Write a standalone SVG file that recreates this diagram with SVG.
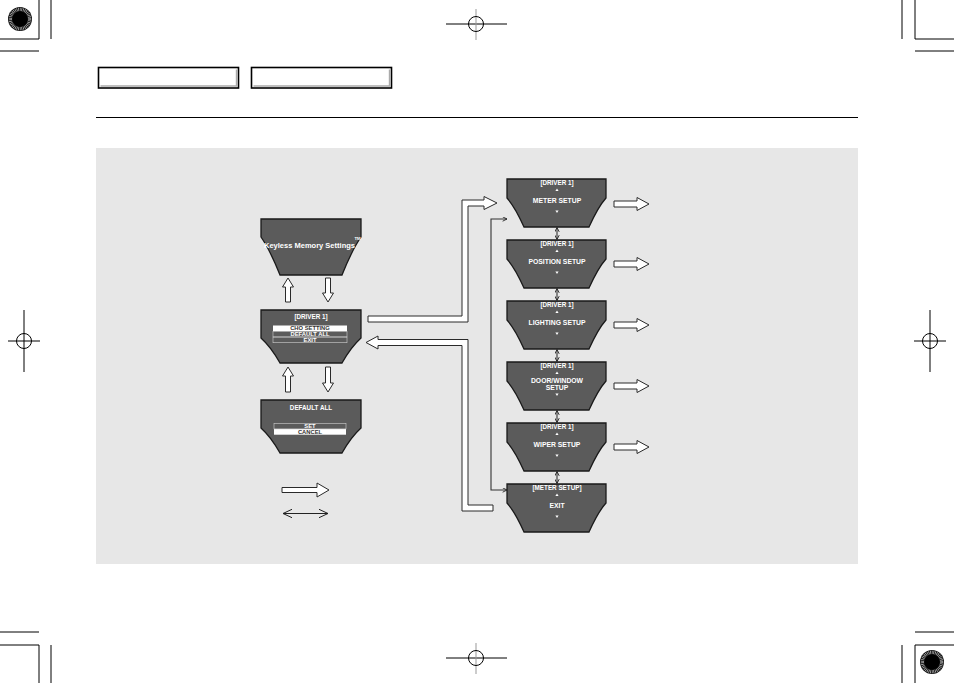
<svg xmlns="http://www.w3.org/2000/svg" width="954" height="683" viewBox="0 0 954 683">
<defs>
<style>
.reg{stroke:#000;stroke-width:1;fill:none}
.scr{fill:#5b5b5b;stroke:#1a1a1a;stroke-width:1.3}
.st{font-family:"Liberation Sans",Arial,sans-serif;font-weight:bold;fill:#fff;text-anchor:middle}
.st.dk{fill:#333}
.wa{fill:#fff;stroke:#2a2a2a;stroke-width:1}
.thin{fill:none;stroke:#333;stroke-width:1.1}
.tab{fill:#fff;stroke:#000;stroke-width:1.6}
.tri{fill:#fff}
</style>
<marker id="oa" viewBox="0 0 8 8" refX="7.5" refY="4" markerWidth="5" markerHeight="5" orient="auto-start-reverse" markerUnits="userSpaceOnUse">
<path d="M0.5,0.5 L7.5,4 L0.5,7.5" fill="none" stroke="#222" stroke-width="1.4"/>
</marker>
<marker id="ob" viewBox="0 0 10 10" refX="9.5" refY="5" markerWidth="10" markerHeight="10" orient="auto-start-reverse" markerUnits="userSpaceOnUse">
<path d="M0.5,0.8 L9.5,5 L0.5,9.2" fill="none" stroke="#222" stroke-width="1"/>
</marker>
<g id="target">
<circle r="12" fill="#111"/>
<circle r="9.6" fill="none" stroke="#bbb" stroke-width="3.2" stroke-dasharray="0.7 0.9"/>
<circle r="7.6" fill="#000"/>
</g>
</defs>

<rect width="954" height="683" fill="#fff"/>

<!-- registration marks -->
<g id="marks">
<use href="#target" x="20" y="19"/>
<path class="reg" d="M39,0V39H0M51,0V39M0,51H39"/>
<path class="reg" d="M902,0V39M915,0V39H954M915,51H954"/>
<path class="reg" d="M0,632H39M0,645H39V683M51,645V683"/>
<path class="reg" d="M915,632H954M902,645V683M954,645H915V683"/>
<use href="#target" x="932" y="662"/>
<path class="reg" d="M446,24H507"/>
<path d="M476,9V40" stroke="#999" stroke-width="1"/>
<circle class="reg" cx="476" cy="24" r="7.5"/>
<path class="reg" d="M446,658H507"/>
<path d="M476,643V674" stroke="#999" stroke-width="1"/>
<circle class="reg" cx="476" cy="658" r="7.5"/>
<path class="reg" d="M8,341H40M24,310V372"/>
<circle class="reg" cx="24" cy="341" r="7.5"/>
<path class="reg" d="M914,341H946M930,310V372"/>
<circle class="reg" cx="930" cy="341" r="7.5"/>
</g>

<!-- header tabs -->
<g id="tabs">
<rect class="tab" x="98.5" y="67.5" width="140" height="20.5"/>
<path d="M236.5,69.5V86H100.5" fill="none" stroke="#aaa" stroke-width="1.4"/>
<rect class="tab" x="251.5" y="67.5" width="140" height="20.5"/>
<path d="M389.5,69.5V86H253.5" fill="none" stroke="#aaa" stroke-width="1.4"/>
</g>
<path d="M96,117.5H858" stroke="#000" stroke-width="1"/>

<rect id="panel" x="96" y="148" width="762" height="416" fill="#e7e7e7"/>

<!-- left screens -->
<g id="keyless">
<path class="scr" d="M261,219H361V237Q352,250 342,275H280Q270,250 261,237Z"/>
<text class="st" x="309.5" y="247.5" font-size="7.3" textLength="91" lengthAdjust="spacingAndGlyphs">Keyless Memory Settings</text>
<text class="st" x="357.5" y="240" font-size="4.3">TM</text>
</g>
<g id="driver1-menu">
<path class="scr" d="M261,310H361V338Q351,347 342,363H280Q271,347 261,338Z"/>
<text class="st" x="311" y="318.5" font-size="6.3">[DRIVER 1]</text>
<rect x="273" y="325.5" width="74" height="5.6" fill="#fff"/>
<text class="st dk" x="310" y="330.4" font-size="5.8">CHO SETTING</text>
<rect x="273" y="331.3" width="74" height="5.6" fill="none" stroke="#d0d0d0" stroke-width="0.6"/>
<text class="st" x="310" y="336.2" font-size="5.8">DEFAULT ALL</text>
<rect x="273" y="337.1" width="74" height="5.6" fill="none" stroke="#d0d0d0" stroke-width="0.6"/>
<text class="st" x="310" y="342" font-size="5.8">EXIT</text>
</g>
<g id="default-all">
<path class="scr" d="M261,400H361V428Q351,437 342,453H280Q271,437 261,428Z"/>
<text class="st" x="311" y="409.5" font-size="6.3">DEFAULT ALL</text>
<rect x="274" y="423.3" width="72" height="5.6" fill="none" stroke="#d0d0d0" stroke-width="0.6"/>
<text class="st" x="310" y="428.2" font-size="5.8">SET</text>
<rect x="274" y="429.1" width="72" height="5.6" fill="#fff"/>
<text class="st dk" x="310" y="434" font-size="5.8">CANCEL</text>
</g>

<!-- right screens -->
<g id="meter-setup">
<path class="scr" d="M507,179H606V198Q598,207 589,227H524Q515,207 507,198Z"/>
<text class="st" x="557" y="185.3" font-size="6.3">[DRIVER 1]</text>
<path class="tri" d="M557,188.5L558.6,191H555.4Z"/>
<text class="st" x="557" y="202.5" font-size="6.8">METER SETUP</text>
<path class="tri" d="M557,213L558.6,210.5H555.4Z"/>
</g>
<g id="position-setup">
<path class="scr" d="M507,240H606V259Q598,268 589,288H524Q515,268 507,259Z"/>
<text class="st" x="557" y="246.3" font-size="6.3">[DRIVER 1]</text>
<path class="tri" d="M557,249.5L558.6,252H555.4Z"/>
<text class="st" x="557" y="263.5" font-size="6.8">POSITION SETUP</text>
<path class="tri" d="M557,274L558.6,271.5H555.4Z"/>
</g>
<g id="lighting-setup">
<path class="scr" d="M507,301H606V320Q598,329 589,349H524Q515,329 507,320Z"/>
<text class="st" x="557" y="307.3" font-size="6.3">[DRIVER 1]</text>
<path class="tri" d="M557,310.5L558.6,313H555.4Z"/>
<text class="st" x="557" y="324.5" font-size="6.8">LIGHTING SETUP</text>
<path class="tri" d="M557,335L558.6,332.5H555.4Z"/>
</g>
<g id="door-window-setup">
<path class="scr" d="M507,362H606V381Q598,390 589,410H524Q515,390 507,381Z"/>
<text class="st" x="557" y="368.3" font-size="6.3">[DRIVER 1]</text>
<path class="tri" d="M557,371.5L558.6,374H555.4Z"/>
<text class="st" x="557" y="382.5" font-size="6.8">DOOR/WINDOW</text>
<text class="st" x="557" y="389.8" font-size="6.8">SETUP</text>
<path class="tri" d="M557,396L558.6,393.5H555.4Z"/>
</g>
<g id="wiper-setup">
<path class="scr" d="M507,423H606V442Q598,451 589,471H524Q515,451 507,442Z"/>
<text class="st" x="557" y="429.3" font-size="6.3">[DRIVER 1]</text>
<path class="tri" d="M557,432.5L558.6,435H555.4Z"/>
<text class="st" x="557" y="446.5" font-size="6.8">WIPER SETUP</text>
<path class="tri" d="M557,457L558.6,454.5H555.4Z"/>
</g>
<g id="exit">
<path class="scr" d="M507,484H606V503Q598,512 589,532H524Q515,512 507,503Z"/>
<text class="st" x="557" y="490.3" font-size="6.3">[METER SETUP]</text>
<path class="tri" d="M557,493.5L558.6,496H555.4Z"/>
<text class="st" x="557" y="507.5" font-size="6.8">EXIT</text>
<path class="tri" d="M557,518L558.6,515.5H555.4Z"/>
</g>

<!-- connectors -->
<g id="connectors">
<path class="wa" d="M288,278L293.5,287H290.5V302H285.5V287H282.5Z"/>
<path class="wa" d="M328,302L333.5,293H330.5V278H325.5V293H322.5Z"/>
<path class="wa" d="M288,367L293.5,376H290.5V392H285.5V376H282.5Z"/>
<path class="wa" d="M328,392L333.5,383H330.5V367H325.5V383H322.5Z"/>
<path class="wa" d="M368,316H462V200H484V196.5L497,203L484,209.5V206H468V322H368Z"/>
<path class="wa" d="M366,342.5L378,336V339.5H468V505H493V511H462V345.5H378V349Z"/>
<path class="thin" d="M507,219H491V490H507" marker-start="url(#oa)" marker-end="url(#oa)"/>
<path class="thin" d="M557,227.5V239.5" marker-start="url(#oa)" marker-end="url(#oa)"/>
<path class="thin" d="M557,288.5V300.5" marker-start="url(#oa)" marker-end="url(#oa)"/>
<path class="thin" d="M557,349.5V361.5" marker-start="url(#oa)" marker-end="url(#oa)"/>
<path class="thin" d="M557,410.5V422.5" marker-start="url(#oa)" marker-end="url(#oa)"/>
<path class="thin" d="M557,471.5V483.5" marker-start="url(#oa)" marker-end="url(#oa)"/>
<path class="wa" d="M614,201H637V197.5L649,204L637,210.5V207H614Z"/>
<path class="wa" d="M614,261H637V257.5L649,264L637,270.5V267H614Z"/>
<path class="wa" d="M614,322H637V318.5L649,325L637,331.5V328H614Z"/>
<path class="wa" d="M614,383H637V379.5L649,386L637,392.5V389H614Z"/>
<path class="wa" d="M614,444H637V440.5L649,447L637,453.5V450H614Z"/>
</g>

<!-- legend -->
<g id="legend">
<path class="wa" d="M282,487.5H317V483L329,490L317,497V492.5H282Z"/>
<path d="M283,513.5H328" stroke="#222" stroke-width="1" marker-start="url(#ob)" marker-end="url(#ob)"/>
</g>
</svg>
